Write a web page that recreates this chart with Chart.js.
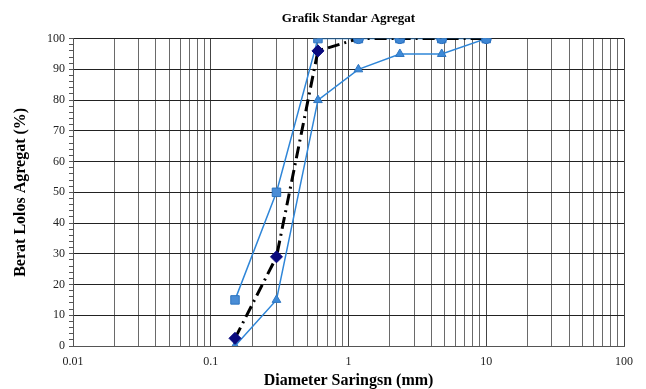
<!DOCTYPE html>
<html>
<head>
<meta charset="utf-8">
<script src="https://cdn.jsdelivr.net/npm/chart.js@4/dist/chart.umd.min.js"></script>
<style>
  html, body { margin: 0; padding: 0; background: #fff; }
  #wrap { width: 646px; height: 389px; }
</style>
</head>
<body>
<div id="wrap"><canvas id="gradasi" width="646" height="389"></canvas></div>
<script>
// sieve sizes (mm) and passing percentages
const saringan = [0.15, 0.3, 0.6, 1.18, 2.36, 4.75, 10];
const batasAtas = [15, 50, 100, 100, 100, 100, 100];
const batasBawah = [0, 15, 80, 90, 95, 95, 100];
const tengah = [2.5, 29, 96, 100, 100, 100, 100];
const lolos100 = [null, null, null, 100, 100, 100, 100];
const xTicks = [0.01, 0.1, 1, 10, 100];

const toPts = (vals) => saringan.map((x, i) => ({ x: x, y: vals[i] })).filter(p => p.y !== null);

const serif = 'Liberation Serif';
const blue = '#2f86d8';

// 1..9 in every decade between the major ticks
const logGrid = [];
for (let d = 0; d < xTicks.length - 1; d++) {
  for (let k = 1; k < 10; k++) logGrid.push(+(xTicks[d] * k).toPrecision(6));
}
logGrid.push(xTicks[xTicks.length - 1]);

const ctx = document.getElementById('gradasi').getContext('2d');
const chart = new Chart(ctx, {
  type: 'line',
  data: {
    datasets: [
      {
        label: 'Lolos',
        data: toPts(lolos100),
        showLine: false,
        pointStyle: 'circle',
        pointRadius: 5,
        backgroundColor: '#3d86d4',
        borderColor: '#2a6fbf',
        borderWidth: 1
      },
      {
        label: 'Tengah',
        data: toPts(tengah),
        borderColor: '#000',
        borderWidth: 3,
        borderDash: [12, 5, 2, 5],
        pointStyle: 'rectRot',
        pointRadius: [6, 6, 6, 0, 0, 0, 0],
        backgroundColor: '#0b0b7e',
        pointBorderColor: '#0b0b7e',
        pointBorderWidth: 1,
        tension: 0
      },
      {
        label: 'Batas Atas',
        data: toPts(batasAtas),
        borderColor: blue,
        borderWidth: 1.5,
        pointStyle: 'rect',
        pointRadius: 6,
        backgroundColor: '#4a8dd6',
        pointBorderColor: '#2e75c0',
        pointBorderWidth: 1,
        tension: 0
      },
      {
        label: 'Batas Bawah',
        data: toPts(batasBawah),
        borderColor: blue,
        borderWidth: 1.5,
        pointStyle: 'triangle',
        pointRadius: 5,
        backgroundColor: '#3d8ad8',
        pointBorderColor: '#2e75c0',
        pointBorderWidth: 1,
        tension: 0
      }
    ]
  },
  options: {
    responsive: false,
    animation: false,
    layout: { padding: { left: 13, right: 22, top: 5, bottom: 0 } },
    plugins: {
      legend: { display: false },
      tooltip: { enabled: false },
      title: {
        display: true,
        fullSize: false,
        text: 'Grafik Standar Agregat',
        color: '#000',
        font: { family: serif, size: 13, weight: 'bold' },
        padding: { top: 6, bottom: 12 }
      }
    },
    scales: {
      x: {
        type: 'logarithmic',
        min: 0.01,
        max: 100,
        afterBuildTicks: (scale) => {
          scale.ticks = logGrid.map(v => ({ value: v, major: xTicks.includes(v) }));
        },
        afterFit: (scale) => { scale.height = 43; },
        border: { color: '#555', width: 1 },
        grid: {
          color: (c) => (c.tick && xTicks.includes(c.tick.value)) ? '#444' : '#6a6a6a',
          lineWidth: 1,
          drawTicks: false
        },
        ticks: {
          autoSkip: false,
          maxRotation: 0,
          padding: 9,
          color: '#222',
          font: { family: serif, size: 12 },
          callback: (v) => {
            const hit = xTicks.find(t => Math.abs(t - v) / t < 1e-6);
            return hit !== undefined ? String(hit) : '';
          }
        },
        title: {
          display: true,
          text: 'Diameter Saringsn (mm)',
          color: '#000',
          font: { family: serif, size: 16, weight: 'bold', lineHeight: 1 },
          padding: { top: 3, bottom: 0 }
        }
      },
      y: {
        min: 0,
        max: 100,
        border: { color: '#555', width: 1 },
        grid: {
          color: (c) => (c.tick && c.tick.value % 10 === 0) ? '#222' : 'rgba(0,0,0,0)',
          tickColor: '#555',
          tickLength: 4,
          lineWidth: 1
        },
        ticks: {
          stepSize: 2,
          maxTicksLimit: 60,
          autoSkip: false,
          padding: 4,
          color: '#222',
          font: { family: serif, size: 12 },
          callback: (v) => (v % 10 === 0 ? String(v) : '')
        },
        title: {
          display: true,
          text: 'Berat Lolos Agregat (%)',
          color: '#000',
          font: { family: serif, size: 16, weight: 'bold', lineHeight: 1 },
          padding: { top: 0, bottom: 14 }
        }
      }
    }
  }
});
</script>
</body>
</html>
